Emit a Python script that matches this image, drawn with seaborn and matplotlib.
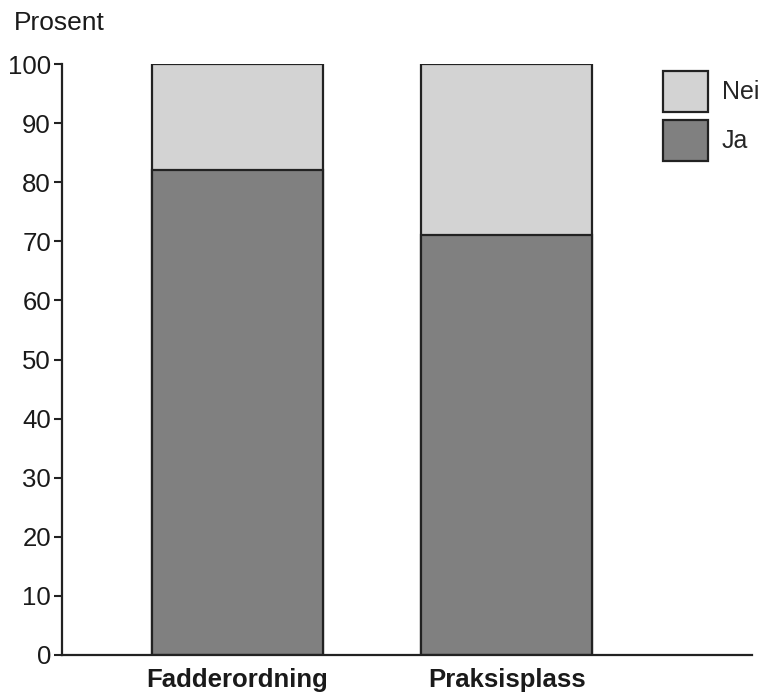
import matplotlib
matplotlib.use("Agg")
import matplotlib.pyplot as plt
import seaborn as sns
import pandas as pd
import numpy as np
from matplotlib.patches import Patch

categories = ["Fadderordning", "Praksisplass"]
ja_values = [82, 71]
nei_values = [18, 29]
y_ticks = [0, 10, 20, 30, 40, 50, 60, 70, 80, 90, 100]

sns.set_theme(style="ticks")
plt.rcParams["font.family"] = ["Liberation Sans", "DejaVu Sans"]

df = pd.DataFrame({"kategori": categories, "Ja": ja_values, "Nei": nei_values})
df["Total"] = df["Ja"] + df["Nei"]

fig = plt.figure(figsize=(7.65, 6.95), dpi=100)
ax = fig.add_axes([62 / 765, 1 - 655 / 695, (752 - 62) / 765, (655 - 64) / 695])

edge = "#222222"
c_ja = "#808080"
c_nei = "#d3d3d3"

sns.barplot(data=df, x="kategori", y="Total", order=categories, color=c_nei,
            width=0.635, edgecolor=edge, linewidth=1.6, saturation=1, ax=ax)
sns.barplot(data=df, x="kategori", y="Ja", order=categories, color=c_ja,
            width=0.635, edgecolor=edge, linewidth=1.6, saturation=1, ax=ax)

ax.set_xlim(-0.65, 1.91)
ax.set_ylim(0, 100)
ax.set_yticks(y_ticks)
ax.set_yticklabels([str(t) for t in y_ticks], fontsize=18.5, color="#1a1a1a")
ax.set_xlabel("")
ax.set_ylabel("")
ax.tick_params(axis="x", length=0, pad=9)
ax.tick_params(axis="y", length=6, width=1.5, color=edge, pad=2)
for lab in ax.get_xticklabels():
    lab.set_fontsize(18.5)
    lab.set_fontweight("bold")
    lab.set_color("#1a1a1a")
for s in ["top", "right"]:
    ax.spines[s].set_visible(False)
for s in ["left", "bottom"]:
    ax.spines[s].set_linewidth(1.6)
    ax.spines[s].set_color(edge)

handles = [Patch(facecolor=c_nei, edgecolor=edge, linewidth=1.6, label="Nei"),
           Patch(facecolor=c_ja, edgecolor=edge, linewidth=1.6, label="Ja")]
fig.legend(handles=handles, loc="upper left",
           bbox_to_anchor=(663 / 765, 1 - 71 / 695), bbox_transform=fig.transFigure,
           frameon=False, fontsize=18, handlelength=1.8, handleheight=2.15,
           labelspacing=0.32, handletextpad=0.56, borderpad=0, borderaxespad=0)

fig.text(14 / 765, 1 - 23 / 695, "Prosent", fontsize=19, va="center", ha="left",
         color="#1a1a1a")

fig.savefig("out.png", dpi=100)
